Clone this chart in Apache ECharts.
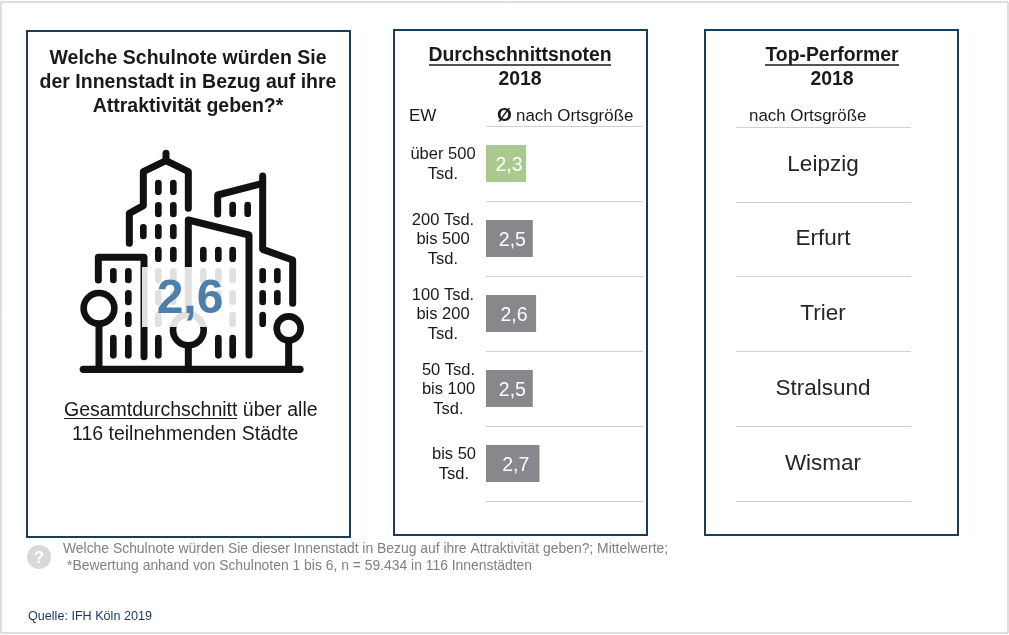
<!DOCTYPE html>
<html lang="de">

<head>
  <meta charset="UTF-8">
  <title>Schulnote Innenstadt</title>
  <script src="https://cdn.jsdelivr.net/npm/echarts@6/dist/echarts.min.js"></script>
  <style>
    html, body { margin: 0; padding: 0; background: #fff; }
    #main { width: 1009px; height: 635px; }
  </style>
</head>

<body>
  <div id="main"></div>
  <script>
    var ortsgroessen = ['über 500\nTsd.', '200 Tsd.\nbis 500\nTsd.', '100 Tsd.\nbis 200\nTsd.', '50 Tsd.\nbis 100\nTsd.', 'bis 50\nTsd.']
    var noten = [2.3, 2.5, 2.6, 2.5, 2.7]
    var topStaedte = ['Leipzig', 'Erfurt', 'Trier', 'Stralsund', 'Wismar']
    var gesamtNote = 2.6

    var fontName = '"Liberation Sans", Arial, sans-serif'
    var navy = '#1b3d5c'
    var black = '#1a1a1a'
    var grey = '#808080'
    var rule = '#d0d0d0'

    function komma(v) {
      return v.toFixed(1).replace('.', ',')
    }

    function txt(x, y, text, size, opt) {
      opt = opt || {}
      return {
        type: 'text',
        x: x,
        y: y,
        z: opt.z || 5,
        style: {
          text: text,
          font: (opt.bold ? 'bold ' : '') + size + 'px ' + fontName,
          fill: opt.color || black,
          align: opt.align || 'left',
          verticalAlign: 'middle'
        }
      }
    }

    function line(x1, y1, x2, y2, color, width) {
      return {
        type: 'line',
        z: 5,
        shape: { x1: x1, y1: y1, x2: x2, y2: y2 },
        style: { stroke: color, lineWidth: width }
      }
    }

    function panel(x, y, w, h) {
      return {
        type: 'rect',
        z: 1,
        shape: { x: x, y: y, width: w, height: h },
        style: { fill: null, stroke: navy, lineWidth: 2 }
      }
    }

    // Stadt-Icon, Koordinaten aus dem 3x Ausschnitt
    function stroke(points, width) {
      return {
        type: 'polyline',
        z: 2,
        shape: { points: points },
        style: { stroke: '#111', fill: null, lineWidth: width || 21, lineCap: 'round', lineJoin: 'round' }
      }
    }

    function fenster(xs, y, len) {
      return xs.map(function (x) {
        return stroke([[x, y - (len || 13)], [x, y + (len || 13)]], 20)
      })
    }

    function ring(cx, cy, r, width) {
      return {
        type: 'circle',
        z: 2,
        shape: { cx: cx, cy: cy, r: r },
        style: { stroke: '#111', fill: '#fff', lineWidth: width }
      }
    }

    var iconTeile = [
      stroke([[208, 310], [208, 220], [250, 197], [250, 95], [318, 62], [385, 95], [385, 205]]),
      stroke([[318, 40], [318, 62]]),
      stroke([[473, 222], [473, 165], [608, 130]]),
      stroke([[608, 108], [608, 328], [698, 360], [698, 490]]),
      stroke([[385, 510], [385, 240], [567, 285], [567, 645]]),
      stroke([[115, 420], [115, 352], [252, 352], [252, 650]]),
      stroke([[70, 688], [720, 688]], 22),
      stroke([[117, 550], [117, 688]]),
      stroke([[385, 620], [385, 688]]),
      stroke([[686, 600], [686, 688]])
    ].concat(
      fenster([295, 340], 142), fenster([295, 340], 209), fenster([250, 295, 340], 275),
      fenster([295, 340, 430, 475, 518], 343), fenster([518, 563], 208),
      fenster([160, 205, 295, 340, 430, 475, 518, 608, 652], 407),
      fenster([205, 295, 340, 430, 475, 518, 608, 652], 473),
      fenster([205, 295, 518, 608], 538),
      fenster([160, 205, 295, 475, 518], 620, 26),
      [ring(117, 505, 46, 20), ring(385, 570, 46, 20), ring(686, 565, 36, 20)]
    )

    var myChart = echarts.init(document.getElementById('main'))

    var option = {
      backgroundColor: '#fff',
      animation: false,
      textStyle: { fontFamily: fontName },
      grid: [
        { left: 486, top: 126, width: 157, height: 375 },
        { left: 736, top: 127, width: 175, height: 374 }
      ],
      xAxis: [
        // Balken beginnen nicht bei 0, die Skala ist aus den Balkenbreiten abgelesen
        { gridIndex: 0, type: 'value', min: 1.1, max: 5.8, show: false },
        { gridIndex: 1, type: 'value', min: 0, max: 1, show: false }
      ],
      yAxis: [
        {
          gridIndex: 0,
          type: 'category',
          inverse: true,
          data: ortsgroessen,
          axisLine: { show: false },
          axisTick: { show: false },
          splitLine: { show: true, showMinLine: true, showMaxLine: true, lineStyle: { color: rule, width: 1 } },
          axisLabel: {
            interval: 0,
            margin: 9,
            align: 'right',
            padding: [2, 0, 0, 0],
            formatter: function (v) {
              var zeilen = v.split('\n')
              var n = Math.max.apply(null, zeilen.map(function (z) { return z.length }))
              return zeilen.map(function (z) { return '{w' + n + '|' + z + '}' }).join('\n')
            },
            rich: {
              w8: { width: 68, align: 'center', fontSize: 16.5, lineHeight: 19.5, color: black, fontFamily: fontName },
              w7: { width: 57, align: 'center', fontSize: 16.5, lineHeight: 19.5, color: black, fontFamily: fontName },
              w6: { width: 46, align: 'center', fontSize: 16.5, lineHeight: 19.5, color: black, fontFamily: fontName }
            }
          }
        },
        {
          gridIndex: 1,
          type: 'category',
          inverse: true,
          data: topStaedte,
          axisLine: { show: false },
          axisTick: { show: false },
          splitLine: { show: true, showMinLine: true, showMaxLine: true, lineStyle: { color: rule, width: 1 } },
          axisLabel: {
            interval: 0,
            margin: -87,
            align: 'center',
            padding: [2, 0, 0, 0],
            fontSize: 22.5,
            color: '#262626',
            fontFamily: fontName
          }
        }
      ],
      series: [
        {
          type: 'bar',
          xAxisIndex: 0,
          yAxisIndex: 0,
          data: noten,
          barWidth: 37,
          z: 3,
          itemStyle: {
            color: function (p) {
              return p.value === Math.min.apply(null, noten) ? '#a9c98f' : '#87878c'
            }
          },
          label: {
            show: true,
            position: 'inside',
            offset: [3, 2],
            fontSize: 19.5,
            color: '#fff',
            fontFamily: fontName,
            formatter: function (p) { return komma(p.value) }
          }
        }
      ],
      graphic: {
        elements: [
          // Rahmen
          { type: 'rect', z: 0, shape: { x: 1, y: 2, width: 1007, height: 631 }, style: { fill: null, stroke: '#bdbdbd', lineWidth: 1 } },
          panel(27, 31, 323, 506),
          panel(394, 30, 253, 505),
          panel(705, 30, 253, 505),

          // linke Box
          txt(188, 58.5, 'Welche Schulnote würden Sie', 19.5, { bold: true, align: 'center' }),
          txt(188, 82.5, 'der Innenstadt in Bezug auf ihre', 19.5, { bold: true, align: 'center' }),
          txt(188, 106.5, 'Attraktivität geben?*', 19.5, { bold: true, align: 'center' }),
          { type: 'group', x: 60, y: 140, scaleX: 1 / 3, scaleY: 1 / 3, children: iconTeile },
          { type: 'rect', z: 3, shape: { x: 142, y: 267, width: 96, height: 60 }, style: { fill: 'rgba(255,255,255,0.87)' } },
          txt(190, 300, komma(gesamtNote), 48, { bold: true, align: 'center', color: '#4f7ea8' }),
          txt(64, 410.5, 'Gesamtdurchschnitt über alle', 19.5),
          line(64, 418.5, 237, 418.5, black, 1),
          txt(72, 434.5, '116 teilnehmenden Städte', 19.5),

          // mittlere Box
          txt(520, 56, 'Durchschnittsnoten', 19.4, { bold: true, align: 'center' }),
          line(429, 65, 611, 65, black, 1.5),
          txt(520, 79.5, '2018', 19.4, { bold: true, align: 'center' }),
          txt(409, 116.5, 'EW', 17),
          txt(497, 115.5, 'Ø', 19, { bold: true }),
          txt(516, 116.5, 'nach Ortsgröße', 16.9),

          // rechte Box
          txt(832, 56, 'Top-Performer', 19.4, { bold: true, align: 'center' }),
          line(765, 65, 899, 65, black, 1.5),
          txt(832, 79.5, '2018', 19.4, { bold: true, align: 'center' }),
          txt(749, 116.5, 'nach Ortsgröße', 16.9),

          // Fussnote
          { type: 'circle', z: 2, shape: { cx: 39, cy: 557, r: 12 }, style: { fill: '#d9d9d9' } },
          txt(39, 558, '?', 17, { bold: true, align: 'center', color: '#fff' }),
          txt(63, 549, 'Welche Schulnote würden Sie dieser Innenstadt in Bezug auf ihre Attraktivität geben?; Mittelwerte;', 13.9, { color: grey }),
          txt(67, 566, '*Bewertung anhand von Schulnoten 1 bis 6, n = 59.434 in 116 Innenstädten', 13.9, { color: grey }),
          txt(28, 617, 'Quelle: IFH Köln 2019', 12.6, { color: '#17375e' })
        ]
      }
    }

    myChart.setOption(option)
  </script>
</body>

</html>
